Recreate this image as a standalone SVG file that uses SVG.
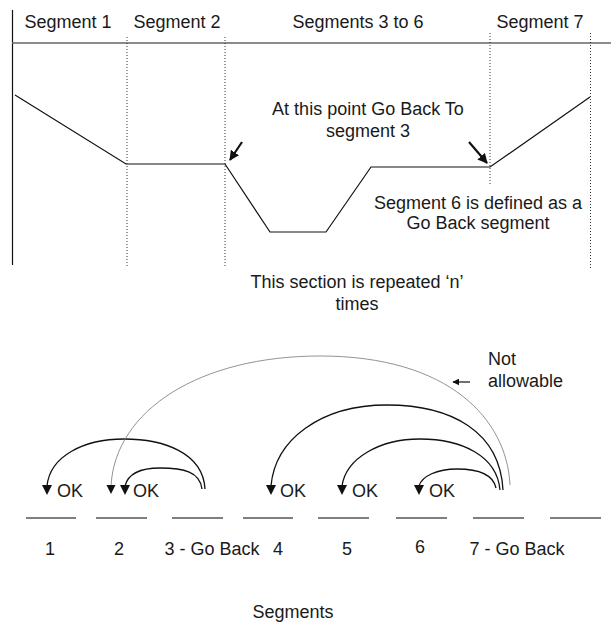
<svg xmlns="http://www.w3.org/2000/svg" width="616" height="624" viewBox="0 0 616 624">
<style>
text{font-family:"Liberation Sans",Arial,sans-serif;font-size:18px;fill:#1a1a1a}
.m{text-anchor:middle}
.ax{stroke:#111;stroke-width:1.2;fill:none}
.ptr{stroke:#111;stroke-width:2.2;fill:none}
.hdr{stroke:#666;stroke-width:1.6;fill:none}
.dot{stroke:#333;stroke-width:1;stroke-dasharray:1 2;fill:none}
.prof{stroke:#111;stroke-width:1.2;fill:none}
.seg{stroke:#555;stroke-width:1.5;fill:none}
.arc{stroke:#111;stroke-width:1.3;fill:none}
.thin{stroke:#777;stroke-width:0.8;fill:none}
.head{fill:#111;stroke:none}
</style>
<defs>
<marker id="ah" viewBox="0 0 10 10" refX="9" refY="5" markerWidth="7" markerHeight="7" orient="auto" markerUnits="userSpaceOnUse">
<path d="M0,0 L10,5 L0,10 Z" fill="#111"/>
</marker>
<marker id="ah2" viewBox="0 0 10 10" refX="9" refY="5" markerWidth="10" markerHeight="10" orient="auto" markerUnits="userSpaceOnUse">
<path d="M0,0 L10,5 L0,10 Z" fill="#111"/>
</marker>
</defs>

<g id="profile-chart">
<line class="ax" x1="12.5" y1="10" x2="12.5" y2="265"/>
<line class="hdr" x1="12" y1="43" x2="611" y2="43"/>
<line class="dot" x1="127" y1="37" x2="127" y2="268"/>
<line class="dot" x1="225" y1="37" x2="225" y2="268"/>
<line class="dot" x1="490" y1="33" x2="490" y2="184"/>
<line class="dot" x1="590.5" y1="33" x2="590.5" y2="268"/>
<path class="prof" d="M15,95 L126,164 L225,164 L270,232 L326,232 L371,167 L490,167 L590,97"/>
<text class="m" x="68" y="28">Segment 1</text>
<text class="m" x="177" y="28">Segment 2</text>
<text class="m" x="358" y="28">Segments 3 to 6</text>
<text class="m" x="540" y="28">Segment 7</text>
</g>

<g id="note-goback">
<text class="m" x="368" y="115">At this point Go Back To</text>
<text class="m" x="368" y="137">segment 3</text>
<line class="ptr" x1="242" y1="142" x2="230" y2="160" marker-end="url(#ah2)"/>
<line class="ptr" x1="469" y1="142" x2="487" y2="163" marker-end="url(#ah2)"/>
</g>

<g id="note-seg6">
<text class="m" x="478" y="209">Segment 6 is defined as a</text>
<text class="m" x="478" y="229">Go Back segment</text>
</g>

<g id="note-repeat">
<text class="m" x="357" y="288">This section is repeated ‘n’</text>
<text class="m" x="357" y="310">times</text>
</g>

<g id="segments">
<line class="seg" x1="26" y1="518" x2="76" y2="518"/>
<line class="seg" x1="96" y1="518" x2="147" y2="518"/>
<line class="seg" x1="172" y1="518" x2="223" y2="518"/>
<line class="seg" x1="243" y1="518" x2="293" y2="518"/>
<line class="seg" x1="318" y1="518" x2="369" y2="518"/>
<line class="seg" x1="396" y1="518" x2="447" y2="518"/>
<line class="seg" x1="473" y1="518" x2="524" y2="518"/>
<line class="seg" x1="550" y1="518" x2="601" y2="518"/>
<text class="m" x="50" y="555">1</text>
<text class="m" x="119" y="555">2</text>
<text class="m" x="212" y="555">3 - Go Back</text>
<text class="m" x="278" y="555">4</text>
<text class="m" x="347" y="555">5</text>
<text class="m" x="420" y="553">6</text>
<text class="m" x="517" y="555">7 - Go Back</text>
<text class="m" x="293" y="618">Segments</text>
</g>

<g id="ok-labels">
<text x="57" y="497">OK</text>
<text x="133" y="497">OK</text>
<text x="280" y="497">OK</text>
<text x="352" y="497">OK</text>
<text x="429" y="497">OK</text>
</g>

<g id="not-allowable">
<text x="488" y="365">Not</text>
<text x="488" y="387">allowable</text>
<line class="ax" x1="470" y1="382" x2="453" y2="382" marker-end="url(#ah)"/>
</g>

<g id="connectors">
<path class="arc" d="M205,489 C203,452 162,439 124,439 C84,439 50,456 47,486"/>
<path class="head" d="M42,485 L52,485 L47,495 Z"/>
<path class="arc" d="M202,489 C200,472 184,468 160,468 C140,468 128,474 125,486"/>
<path class="head" d="M120,485 L130,485 L125,495 Z"/>
<path class="thin" d="M510,485 C507,420 450,356 320,356 C200,356 115,410 111,486"/>
<path class="head" d="M106.5,485 L115.5,485 L111,494 Z"/>
<path class="arc" d="M503,490 C500,432 452,405 387,405 C320,405 275,440 271,486"/>
<path class="head" d="M266,485 L276,485 L271,495 Z"/>
<path class="arc" d="M500,490 C497,456 462,439 420,439 C380,439 346,458 342,486"/>
<path class="head" d="M337,485 L347,485 L342,495 Z"/>
<path class="arc" d="M496,488 C493,474 478,469 457,469 C437,469 422,476 419,486"/>
<path class="head" d="M414,485 L424,485 L419,495 Z"/>
</g>
</svg>
